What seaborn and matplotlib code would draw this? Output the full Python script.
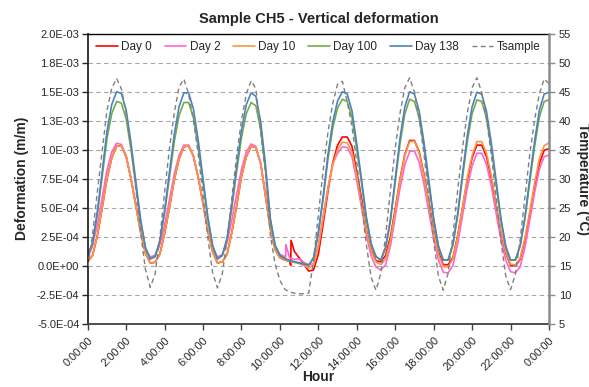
import pandas as pd
import seaborn as sns
import matplotlib.pyplot as plt
from matplotlib.lines import Line2D

# Hour of the day (h)
hours = [
    0.0, 0.25, 0.5, 0.75, 1.0, 1.25, 1.5, 1.75,
    2.0, 2.25, 2.5, 2.75, 3.0, 3.25, 3.5, 3.75,
    4.0, 4.25, 4.5, 4.75, 5.0, 5.25, 5.5, 5.75,
    6.0, 6.25, 6.5, 6.75, 7.0, 7.25, 7.5, 7.75,
    8.0, 8.25, 8.5, 8.75, 9.0, 9.25, 9.5, 9.75,
    10.0, 10.25, 10.5, 10.75, 11.0, 11.25, 11.5, 11.75,
    12.0, 12.25, 12.5, 12.75, 13.0, 13.25, 13.5, 13.75,
    14.0, 14.25, 14.5, 14.75, 15.0, 15.25, 15.5, 15.75,
    16.0, 16.25, 16.5, 16.75, 17.0, 17.25, 17.5, 17.75,
    18.0, 18.25, 18.5, 18.75, 19.0, 19.25, 19.5, 19.75,
    20.0, 20.25, 20.5, 20.75, 21.0, 21.25, 21.5, 21.75,
    22.0, 22.25, 22.5, 22.75, 23.0, 23.25, 23.5, 23.75,
    24.0,
]

# Deformation, in 1E-04 m/m
day0 = [
    0.35, 0.9, 2.6, 5.0, 7.5, 9.3, 10.3, 10.35,
    9.4, 7.5, 5.2, 2.9, 1.1, 0.25, 0.3, 1.0,
    2.8, 5.0, 7.4, 9.2, 10.25, 10.35, 9.45, 7.6,
    5.35, 3.0, 1.2, 0.25, 0.35, 1.0, 2.9, 5.2,
    7.7, 9.4, 10.3, 10.2, 8.8, 6.0, 3.2, 1.4,
    0.7, 0.5, 0.4, 1.25, 0.7, 0.1, -0.45, -0.35,
    1.0, 3.6, 6.4, 8.9, 10.4, 11.1, 11.1, 10.3,
    8.1, 5.8, 3.1, 1.35, 0.45, 0.35, 0.9, 2.5,
    4.9, 7.5, 9.6, 10.8, 10.8, 9.8, 7.85, 5.45,
    3.1, 1.2, 0.1, 0.1, 0.7, 2.6, 5.0, 7.4,
    9.3, 10.4, 10.4, 9.4, 7.55, 5.2, 2.85, 1.1,
    0.05, 0.0, 0.55, 2.2, 4.45, 6.8, 8.8, 9.95,
    10.1,
]
day0_jump_h = [10.56, 10.58]
day0_jump_v = [0.05, 2.2]

day2 = [
    0.7, 1.72, 3.56, 5.87, 8.25, 9.82, 10.57, 10.46,
    9.48, 7.57, 5.32, 3.08, 1.45, 0.77, 0.9, 1.82,
    3.52, 5.7, 7.9, 9.52, 10.4, 10.4, 9.44, 7.62,
    5.42, 3.18, 1.53, 0.77, 0.97, 1.99, 3.96, 6.21,
    8.32, 9.82, 10.5, 10.29, 8.8, 6.28, 3.15, 1.58,
    1.0, 0.8, 0.7, 0.55, 0.6, 0.3, 0.1, 0.2,
    1.8, 4.3, 6.8, 8.8, 9.7, 10.25, 10.2, 9.4,
    7.3, 5.0, 2.6, 0.85, -0.1, -0.35, 0.1, 1.7,
    4.2, 6.7, 8.7, 9.85, 9.9, 8.9, 7.0, 4.65,
    2.35, 0.5, -0.55, -0.6, 0.0, 1.9, 4.3, 6.7,
    8.6, 9.7, 9.7, 8.75, 6.9, 4.55, 2.25, 0.5,
    -0.5, -0.6, -0.1, 1.6, 3.9, 6.3, 8.3, 9.4,
    9.55,
]
day2_jump_h = [10.3, 10.31]
day2_jump_v = [0.75, 1.85]

day10 = [
    0.35, 0.9, 2.6, 5.0, 7.5, 9.3, 10.3, 10.35,
    9.4, 7.5, 5.2, 2.9, 1.1, 0.25, 0.3, 1.0,
    2.8, 5.0, 7.4, 9.2, 10.25, 10.35, 9.45, 7.6,
    5.35, 3.0, 1.2, 0.25, 0.35, 1.0, 2.9, 5.2,
    7.7, 9.4, 10.3, 10.2, 8.8, 6.0, 3.2, 1.4,
    0.7, 0.5, 0.4, 0.3, 0.2, 0.05, -0.2, 0.1,
    1.6, 4.1, 6.6, 8.7, 10.0, 10.65, 10.6, 9.8,
    7.7, 5.4, 3.0, 1.25, 0.35, 0.1, 0.6, 2.2,
    4.7, 7.4, 9.5, 10.7, 10.75, 9.7, 7.7, 5.3,
    2.9, 1.0, -0.05, -0.1, 0.6, 2.5, 5.0, 7.6,
    9.5, 10.7, 10.7, 9.7, 7.8, 5.4, 3.0, 1.2,
    0.15, 0.08, 0.65, 2.4, 4.7, 7.1, 9.2, 10.35,
    10.6,
]

day100 = [
    0.88, 1.91, 4.46, 7.66, 10.96, 13.12, 14.16, 14.02,
    12.65, 10.02, 6.91, 3.8, 1.54, 0.6, 0.78, 2.06,
    4.55, 7.61, 10.67, 12.94, 14.07, 14.07, 12.75, 10.2,
    7.1, 3.99, 1.68, 0.6, 0.88, 2.29, 5.02, 8.13,
    11.05, 13.12, 14.07, 13.78, 11.71, 8.23, 3.89, 1.73,
    0.88, 0.64, 0.45, 0.36, 0.27, 0.17, 0.08, 0.68,
    2.8, 5.75, 9.2, 11.87, 13.6, 14.35, 14.16, 12.77,
    10.05, 7.1, 4.04, 1.84, 0.79, 0.5, 1.55, 3.84,
    7.19, 10.53, 13.1, 14.35, 14.16, 12.72, 10.14, 7.04,
    3.94, 1.65, 0.5, 0.5, 1.78, 4.32, 7.56, 10.71,
    13.1, 14.3, 14.16, 12.72, 10.14, 7.04, 3.94, 1.65,
    0.5, 0.5, 1.69, 4.04, 7.19, 10.24, 12.81, 14.15,
    14.3,
]

day138 = [
    0.9, 2.0, 4.7, 8.1, 11.6, 13.9, 15.0, 14.85,
    13.4, 10.6, 7.3, 4.0, 1.6, 0.6, 0.8, 2.15,
    4.8, 8.05, 11.3, 13.7, 14.9, 14.9, 13.5, 10.8,
    7.5, 4.2, 1.75, 0.6, 0.9, 2.4, 5.3, 8.6,
    11.7, 13.9, 14.9, 14.6, 12.4, 8.7, 4.1, 1.8,
    0.9, 0.65, 0.45, 0.35, 0.25, 0.15, 0.05, 0.7,
    2.9, 6.0, 9.6, 12.4, 14.2, 15.0, 14.8, 13.35,
    10.5, 7.4, 4.2, 1.9, 0.8, 0.5, 1.6, 4.0,
    7.5, 11.0, 13.7, 15.0, 14.8, 13.3, 10.6, 7.35,
    4.1, 1.7, 0.5, 0.5, 1.85, 4.5, 7.9, 11.2,
    13.7, 14.95, 14.8, 13.3, 10.6, 7.35, 4.1, 1.7,
    0.5, 0.5, 1.75, 4.2, 7.5, 10.7, 13.4, 14.8,
    14.95,
]

# Sample temperature (°C)
tsample = [
    14.8, 20.4, 27.8, 34.8, 41.8, 45.6, 47.3, 45.5,
    41.2, 35.4, 28.3, 20.8, 14.4, 11.3, 13.5, 19.8,
    27.7, 35.2, 41.3, 45.8, 47.2, 44.6, 40.1, 34.2,
    27.1, 19.8, 13.8, 11.2, 13.6, 19.5, 26.8, 34.0,
    40.1, 44.6, 46.9, 45.5, 38.0, 31.0, 20.4, 15.3,
    12.5, 11.0, 10.5, 10.3, 10.2, 10.2, 10.3, 16.0,
    23.8, 31.5, 38.0, 43.0, 46.3, 46.8, 43.3, 39.0,
    32.8, 25.7, 18.6, 13.0, 10.8, 13.7, 20.2, 28.0,
    35.3, 41.3, 45.7, 47.4, 44.9, 40.3, 34.2, 26.8,
    19.3, 13.2, 10.8, 13.7, 20.2, 28.0, 35.3, 41.3,
    45.7, 47.4, 44.9, 40.3, 34.2, 26.9, 19.4, 13.3,
    10.9, 13.5, 19.5, 26.8, 34.2, 40.1, 44.6, 47.2,
    46.4,
]

series_names = ["Day 0", "Day 2", "Day 10", "Day 100", "Day 138"]
colors = ["#ff0000", "#ff66cc", "#f79646", "#70ad47", "#4f81bd"]

x_ticks = [0, 2, 4, 6, 8, 10, 12, 14, 16, 18, 20, 22, 24]
x_labels = ["0:00:00", "2:00:00", "4:00:00", "6:00:00", "8:00:00", "10:00:00",
            "12:00:00", "14:00:00", "16:00:00", "18:00:00", "20:00:00",
            "22:00:00", "0:00:00"]
def_ticks = [-5e-4, -2.5e-4, 0, 2.5e-4, 5e-4, 7.5e-4, 1e-3, 1.25e-3, 1.5e-3, 1.75e-3, 2e-3]
def_labels = ["-5.0E-04", "-2.5E-04", "0.0E+00", "2.5E-04", "5.0E-04", "7.5E-04",
              "1.0E-03", "1.3E-03", "1.5E-03", "1.8E-03", "2.0E-03"]
temp_ticks = [5, 10, 15, 20, 25, 30, 35, 40, 45, 50, 55]

# long table
frames = []
for name, vals in zip(series_names, [day0, day2, day10, day100, day138]):
    frames.append(pd.DataFrame({"Hour": hours, "Deformation": vals, "Series": name}))
frames.append(pd.DataFrame({"Hour": day0_jump_h, "Deformation": day0_jump_v, "Series": "Day 0"}))
frames.append(pd.DataFrame({"Hour": day2_jump_h, "Deformation": day2_jump_v, "Series": "Day 2"}))
df = pd.concat(frames, ignore_index=True)
df["Deformation"] = df["Deformation"] * 1e-4
df_t = pd.DataFrame({"Hour": hours, "Tsample": tsample})

sns.set_theme(style="white")
plt.rcParams["font.family"] = ["Liberation Sans", "DejaVu Sans"]

fig, ax = plt.subplots(figsize=(5.89, 3.87), dpi=100)
fig.subplots_adjust(left=0.149, right=0.932, top=0.913, bottom=0.163)
ax2 = ax.twinx()

sns.lineplot(data=df, x="Hour", y="Deformation", hue="Series", hue_order=series_names,
             palette=colors, estimator=None, linewidth=1.2, legend=False, ax=ax)
sns.lineplot(data=df_t, x="Hour", y="Tsample", color="#7f7f7f", estimator=None,
             linewidth=1.0, legend=False, ax=ax2)
ax2.lines[0].set_dashes([3.5, 2.5])

ax.set_xlim(0, 24)
ax.set_ylim(-5e-4, 2e-3)
ax2.set_ylim(5, 55)

ax.set_xticks(x_ticks)
ax.set_xticklabels(x_labels, rotation=45, ha="right", va="top", rotation_mode="anchor")
ax.set_yticks(def_ticks)
ax.set_yticklabels(def_labels)
ax2.set_yticks(temp_ticks)

ax.yaxis.grid(True, color="#a6a6a6", linestyle=(0, (4, 3)), linewidth=0.8)
ax.xaxis.grid(False)
ax.set_axisbelow(True)

for side in ["top", "left", "bottom"]:
    ax.spines[side].set_visible(True)
ax.spines["right"].set_visible(False)
ax.spines["top"].set_color("#000000")
ax.spines["top"].set_linewidth(1.0)
ax.spines["left"].set_color("#262626")
ax.spines["left"].set_linewidth(1.3)
ax.spines["bottom"].set_color("#404040")
ax.spines["bottom"].set_linewidth(1.3)
for side in ["top", "left", "bottom"]:
    ax2.spines[side].set_visible(False)
ax2.spines["right"].set_visible(True)
ax2.spines["right"].set_color("#8c8c8c")
ax2.spines["right"].set_linewidth(1.8)

ax.tick_params(axis="y", direction="out", length=4, width=1, color="#262626",
               labelsize=8, labelcolor="#262626", left=True, pad=2)
ax.tick_params(axis="x", direction="out", length=4, width=1, color="#404040",
               labelsize=8, labelcolor="#262626", bottom=True, pad=4)
ax2.tick_params(axis="y", direction="out", length=4, width=1, color="#8c8c8c",
                labelsize=8, labelcolor="#262626", right=True, pad=3)

ax.set_xlabel("Hour", fontsize=10, fontweight="bold", va="center")
ax.xaxis.set_label_coords(0.5, -0.183)
ax.set_ylabel("Deformation (m/m)", fontsize=10, fontweight="bold", labelpad=6)
ax2.set_ylabel("Temperature (°C)", fontsize=10, fontweight="bold", rotation=270, labelpad=14)
ax.set_title("Sample CH5 - Vertical deformation", fontsize=10.5, fontweight="bold", pad=8)

handles = [Line2D([], [], color=c, linewidth=1.2) for c in colors]
handles.append(Line2D([], [], color="#7f7f7f", linewidth=1.0, dashes=[3.5, 2.5]))
ax2.legend(handles, series_names + ["Tsample"], loc="upper center", ncol=6, frameon=False,
           fontsize=8.5, handlelength=1.8, handletextpad=0.3, columnspacing=1.1,
           bbox_to_anchor=(0.5, 1.0), borderaxespad=0.25)

fig.savefig("out.png", dpi=100)
